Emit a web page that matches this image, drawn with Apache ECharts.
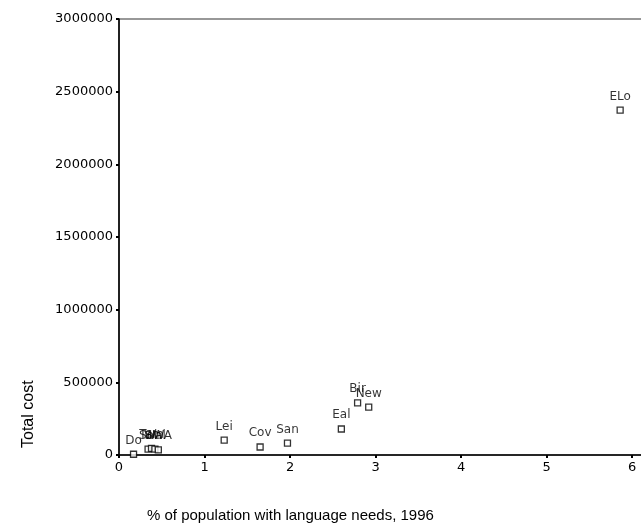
<!DOCTYPE html>
<html>
<head>
<meta charset="utf-8">
<script src="https://cdn.jsdelivr.net/npm/echarts@6/dist/echarts.min.js"></script>
<style>
  html, body { margin: 0; padding: 0; background: #fff; overflow: hidden; width: 641px; height: 527px; }
  /* the plot frame runs past the right edge of the page, so the canvas is wider than the view */
  #chart { width: 680px; height: 527px; }
</style>
</head>
<body>
<div id="chart"></div>
<script>
// Authority codes, share of population with language needs (%), total cost
const codes = ['Do', 'Sol', 'Tam', 'Wal', 'SWA', 'Lei', 'Cov', 'San', 'Eal', 'Bir', 'New', 'ELo'];
const pctLanguageNeeds = [0.17, 0.34, 0.38, 0.42, 0.46, 1.23, 1.65, 1.97, 2.60, 2.79, 2.92, 5.86];
const totalCost = [5000, 40000, 45000, 40000, 35000, 103000, 55000, 82000, 179000, 358000, 330000, 2373000];

const xTicks = [0, 1, 2, 3, 4, 5, 6];
const yTicks = [0, 500000, 1000000, 1500000, 2000000, 2500000, 3000000];

const points = codes.map((c, i) => ({ name: c, value: [pctLanguageNeeds[i], totalCost[i]] }));

const ink = '#000';
const tickFont = 'DejaVu Sans';
const chart = echarts.init(document.getElementById('chart'), null, { renderer: 'canvas' });

chart.setOption({
  animation: false,
  backgroundColor: '#fff',
  textStyle: { fontFamily: 'Liberation Sans', color: ink },
  grid: {
    left: 119, top: 19, bottom: 72, right: 0,
    show: true, borderColor: '#333', borderWidth: 1.2, backgroundColor: 'transparent'
  },
  xAxis: {
    type: 'value',
    min: 0, max: 6.56,
    splitLine: { show: false },
    axisLine: { lineStyle: { color: ink, width: 1.5 } },
    axisTick: { show: true, inside: false, length: 3, lineStyle: { color: ink, width: 2 },
      customValues: xTicks },
    axisLabel: {
      color: ink, fontSize: 13, margin: 6, fontFamily: tickFont,
      customValues: xTicks,
      formatter: v => String(v)
    }
  },
  yAxis: {
    type: 'value',
    min: 0, max: 3000000, interval: 500000,
    splitLine: { show: false },
    axisLine: { lineStyle: { color: ink, width: 1.5 } },
    axisTick: { show: true, inside: false, length: 3, lineStyle: { color: ink, width: 2 } },
    axisLabel: {
      color: ink, fontSize: 13, margin: 6, fontFamily: tickFont,
      formatter: v => (yTicks.indexOf(v) >= 0 ? String(v) : '')
    }
  },
  graphic: [
    {
      type: 'text', left: 147, top: 508,
      style: { text: '% of population with language needs, 1996', fontSize: 15,
        fontFamily: 'Liberation Sans', fill: ink }
    },
    {
      type: 'text', x: 21, y: 448, rotation: Math.PI / 2,
      style: { text: 'Total cost', fontSize: 16, fontFamily: 'Liberation Sans', fill: ink }
    }
  ],
  series: [{
    type: 'scatter',
    data: points,
    symbol: 'rect',
    symbolSize: 6,
    itemStyle: { color: '#fff', borderColor: ink, borderWidth: 1.3 },
    label: {
      show: true, position: 'top', distance: 4,
      formatter: p => p.name,
      color: ink, fontSize: 12, fontFamily: 'DejaVu Sans'
    }
  }]
});
</script>
</body>
</html>
